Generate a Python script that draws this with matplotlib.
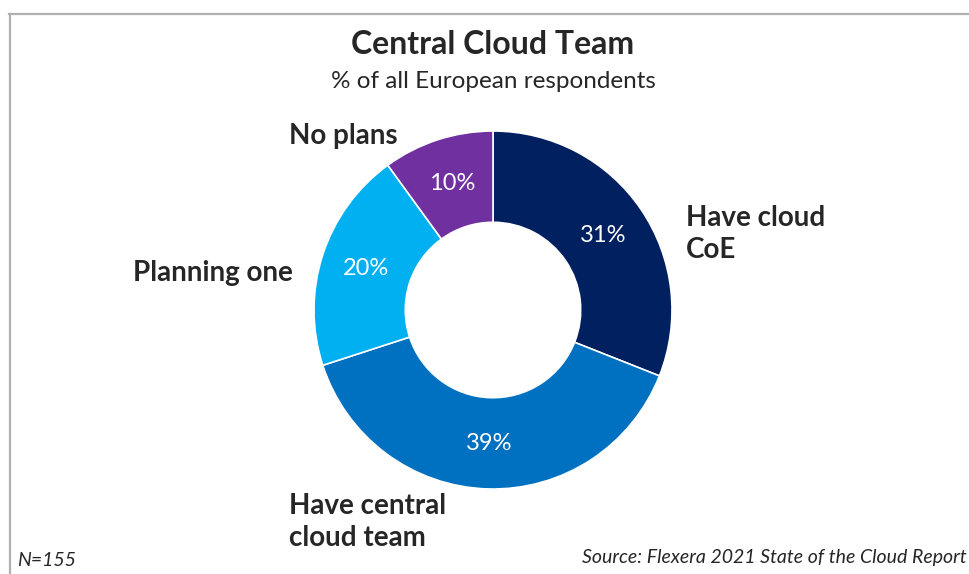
import matplotlib.pyplot as plt
from matplotlib.lines import Line2D

# data
labels = ['Have cloud\nCoE', 'Have central\ncloud team', 'Planning one', 'No plans']
shares = [31, 39, 20, 10]
colors = ['#00205F', '#0070C0', '#00B0F0', '#7030A0']

plt.rcParams['font.family'] = ['Lato', 'DejaVu Sans']

W, H = 969, 574
fig = plt.figure(figsize=(W / 100, H / 100), dpi=100)
ax = fig.add_axes([0, 0, 1, 1])

# donut, drawn in pixel coordinates (y measured from bottom)
wedges, texts, pcts = ax.pie(
    shares, colors=colors, startangle=90, counterclock=False,
    center=(493, H - 310), radius=179, frame=True,
    autopct='%d%%', pctdistance=0.745,
    wedgeprops=dict(width=179 * 0.51, edgecolor='white', linewidth=1.2),
    textprops=dict(color='white', fontsize=17))
ax.set_xlim(0, W)
ax.set_ylim(0, H)
ax.set_aspect('equal')
ax.axis('off')

# category labels placed by hand like the original slide
lab_kw = dict(fontsize=20, fontweight='bold', color='#262626', linespacing=1.3)
ax.text(686, H - 234, labels[0], ha='left', va='center', **lab_kw)
ax.text(289, H - 522, labels[1], ha='left', va='center', **lab_kw)
ax.text(293, H - 273, labels[2], ha='right', va='center', **lab_kw)
ax.text(398, H - 136, labels[3], ha='right', va='center', **lab_kw)

# titles
fig.text(493 / W, 1 - 45 / H, 'Central Cloud Team', ha='center', va='center',
         fontsize=23, fontweight='bold', color='#262626')
fig.text(493 / W, 1 - 81 / H, '% of all European respondents', ha='center',
         va='center', fontsize=17.5, color='#262626')

# footnotes
fig.text(17 / W, 1 - 561 / H, 'N=155', ha='left', va='center',
         fontsize=14, style='italic', color='#262626')
fig.text(967 / W, 1 - 558 / H, 'Source: Flexera 2021 State of the Cloud Report',
         ha='right', va='center', fontsize=14, style='italic', color='#262626')

# frame lines (top and left) from the slide border
fig.add_artist(Line2D([9 / W, 1], [1 - 14 / H, 1 - 14 / H],
                      transform=fig.transFigure, color='#B0B0B0', lw=1.6))
fig.add_artist(Line2D([10 / W, 10 / W], [0, 1 - 14 / H],
                      transform=fig.transFigure, color='#B0B0B0', lw=1.6))

fig.savefig('out.png', dpi=100)
